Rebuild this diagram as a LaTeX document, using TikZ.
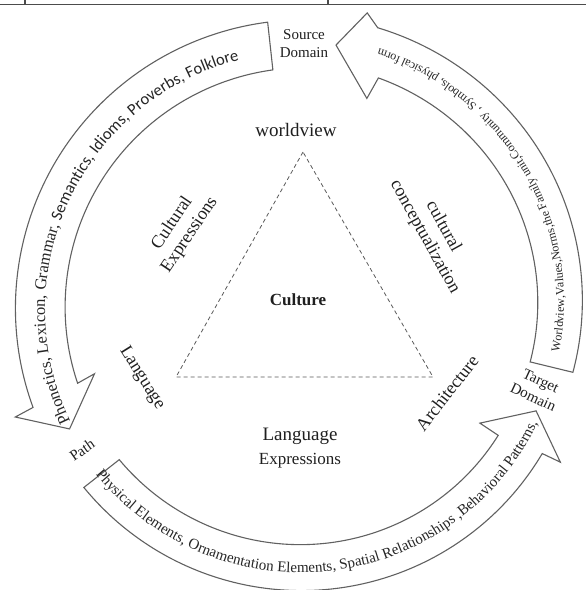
\documentclass[tikz,border=0pt]{standalone}
\usepackage{fontspec}
\setmainfont{Liberation Serif}
\setsansfont{Carlito}
\usetikzlibrary{decorations.text}
\newcommand\fsz[2]{\fontsize{#1}{#2}\selectfont}
\begin{document}
\begin{tikzpicture}[x=1pt,y=1pt,
  arrowline/.style={draw=black!62, line width=1.1pt, fill=white, line join=miter},
  arcplot/.style={domain=0:1, samples=100, variable=\t},
  lbl/.style={inner sep=0pt, text=black!88, align=center},
  tri/.style={draw=black!65, line width=0.8pt, dash pattern=on 4pt off 3pt}
]
\useasboundingbox (0,0) rectangle (586,590);
% top table border
\coordinate (tl) at (0,585.5);
\coordinate (tr) at (586,585.5);
\coordinate (k1) at (25,585.5);
\coordinate (k2) at (328,585.5);
\coordinate (k1t) at (25,590);
\coordinate (k2t) at (328,590);
\draw[black!70, line width=1.3pt] (tl) -- (tr);
\draw[black!70, line width=1.1pt] (k1) -- (k1t) (k2) -- (k2t);

\begin{scope}[shift={(303,280)}]
% left arrow (source -> path)
\draw[arrowline] plot[arcplot] ({97+(200-97)*\t}:{290+(287-290)*\t})
  -- (200.4:307) -- (207:262) -- (197:218) -- (198:237)
  -- plot[arcplot] ({198+(97-198)*\t}:{237+(242-237)*\t}) -- cycle;
% right arrow (target -> source)
\draw[arrowline] plot[arcplot] ({-13+(75.3+13)*\t}:{277+(292-277)*\t})
  -- (77.8:304) -- (82.9:267) -- (73.2:221) -- (72:244)
  -- plot[arcplot] ({72+(-13-72)*\t}:{244+(233-244)*\t}) -- cycle;
% bottom arrow (path -> target)
\draw[arrowline] plot[arcplot] ({219+(329.2-219)*\t}:{282+(279-282)*\t})
  -- (329.4:299) -- (336.6:254) -- (327.4:210) -- (327.3:232)
  -- plot[arcplot] ({327.3+(219-327.3)*\t}:{232+(237-232)*\t}) -- cycle;

% texts along the arrows
\path[decorate, decoration={text along path, text align=center,
  text={|\color{black!85}\fsz{16.5}{16.5}\rmfamily|Phonetics, Lexicon, Grammar, |\color{black!85}\fsz{16.5}{16.5}\sffamily|Semantics, Idioms, Proverbs, Folklore}}]
  (212:258) arc[start angle=212, end angle=98, radius=258];
\path[decorate, decoration={text along path, text align=center,
  text={|\color{black!85}\fsz{12}{12}|Worldview,Values,Norms,the Family unit,Community , Symbols, physical form}}]
  plot[arcplot] ({-20+104*\t}:{259+13*(-7+104*\t)/87});
\path[decorate, decoration={text along path, text align=center,
  text={|\color{black!85}\fsz{15}{15}|Physical Elements, Ornamentation Elements, Spatial Relationships ,Behavioral Patterns,}}]
  plot[arcplot] ({211+131*\t}:{264.5-4*(-8+131*\t)/110});
\end{scope}

% triangle
\coordinate (tA) at (303,438);
\coordinate (tB) at (176,213);
\coordinate (tC) at (433,213);
\draw[tri] (tA) -- (tB) -- (tC) -- cycle;

% labels
\node[lbl, font=\fsz{19}{22}] (wv) at (296,460) {worldview};
\node[lbl, font=\fsz{17}{20}\bfseries] (cu) at (298,290) {Culture};
\node[lbl, font=\fsz{18}{21}, rotate=56] (ce) at (181,361) {Cultural\\Expressions};
\node[lbl, font=\fsz{18}{21}, rotate=-61] (cc) at (434,358) {cultural\\conceptualization};
\node[lbl, font=\fsz{18}{21}, rotate=-58] (lg) at (142,212) {Language};
\node[lbl, font=\fsz{18}{21}, rotate=52] (ar) at (447,197) {Architecture};
\node[lbl, font=\fsz{19}{22}] (le) at (300,154) {Language};
\node[lbl, font=\fsz{17}{20}] (ex) at (300,129) {Expressions};
\node[lbl, font=\fsz{15}{18}] (sd) at (304,546) {Source\\Domain};
\node[lbl, font=\fsz{15}{18}, rotate=-25] (td) at (537,201) {Target\\Domain};
\node[lbl, font=\fsz{15}{18}, rotate=35] (pa) at (82,140) {Path};
\end{tikzpicture}
\end{document}
